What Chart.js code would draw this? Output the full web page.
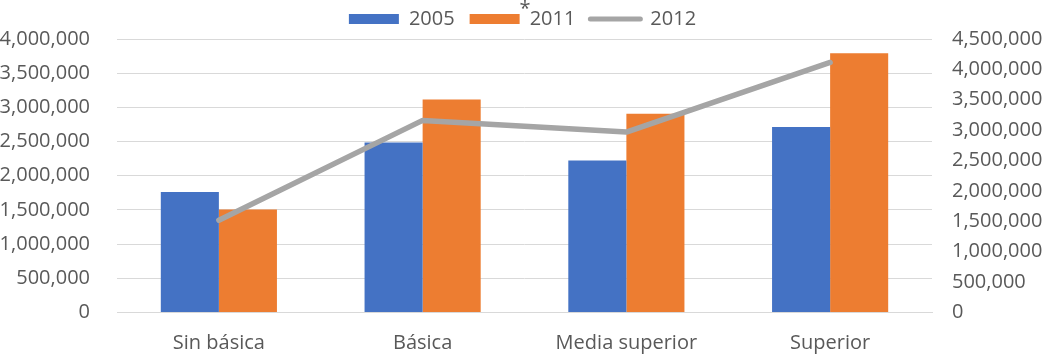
<!DOCTYPE html>
<html>
<head>
<meta charset="utf-8">
<script src="https://cdn.jsdelivr.net/npm/chart.js@4/dist/chart.umd.min.js"></script>
<style>
    body { margin: 0; background: #fff; }
</style>
</head>
<body>
<canvas id="g_niveles" width="1045" height="355"></canvas>
<script>
const categorias = ["Sin básica", "Básica", "Media superior", "Superior"];
const serie2005 = [1764000, 2485000, 2222000, 2712000];
const serie2011 = [1507000, 3117000, 2908000, 3793000];
const serie2012 = [1519000, 3161000, 2969000, 4114000];
const ticksIzq = [0, 4000000, 500000];   // min, max, paso
const ticksDer = [0, 4500000, 500000];

const FUENTE = "'Open Sans', 'Liberation Sans', sans-serif";
const GRIS_TXT = "#595959";

function miles(v) {
    return Number(v).toLocaleString("en-US");
}

// asterisco sobre la leyenda de 2011
const asterisco = {
    id: "asterisco",
    afterDraw(chart) {
        const ctx = chart.ctx;
        ctx.save();
        ctx.fillStyle = GRIS_TXT;
        ctx.font = "20px " + FUENTE;
        ctx.textAlign = "center";
        ctx.textBaseline = "top";
        ctx.fillText("*", 525, -1);
        ctx.restore();
    }
};

function grafica() {
    const ctx = document.getElementById("g_niveles").getContext("2d");
    let conData = {
        labels: categorias,
        datasets: [{
            type: "line",
            label: "2012",
            data: serie2012,
            yAxisID: "y1",
            borderColor: "#A5A5A5",
            backgroundColor: "#A5A5A5",
            borderWidth: 5.5,
            borderCapStyle: "round",
            borderJoinStyle: "round",
            pointRadius: 0,
            pointHoverRadius: 0,
            order: 0
        }, {
            label: "2005",
            data: serie2005,
            backgroundColor: "#4472C4",
            yAxisID: "y",
            order: 1
        }, {
            label: "2011",
            data: serie2011,
            backgroundColor: "#ED7D31",
            yAxisID: "y",
            order: 1
        }]
    }
    let options = {
        responsive: false,
        animation: false,
        layout: { padding: { top: -9, left: 0, right: 0, bottom: 0 } },
        datasets: {
            bar: { categoryPercentage: 0.57, barPercentage: 1 }
        },
        plugins: {
            tooltip: { enabled: false },
            legend: {
                position: "top",
                labels: {
                    usePointStyle: true,
                    pointStyleWidth: 50,
                    boxHeight: 10,
                    padding: 15,
                    color: GRIS_TXT,
                    font: { family: FUENTE, size: 20 },
                    sort: function(a, b) {
                        return Number(a.text) - Number(b.text);
                    },
                    generateLabels: function(chart) {
                        return chart.data.datasets.map(function(ds, i) {
                            const esLinea = ds.type === "line";
                            return {
                                text: ds.label,
                                fillStyle: ds.backgroundColor,
                                strokeStyle: ds.backgroundColor,
                                lineWidth: esLinea ? 5 : 0,
                                lineCap: "round",
                                pointStyle: esLinea ? "line" : "rect",
                                fontColor: GRIS_TXT,
                                datasetIndex: i
                            };
                        });
                    }
                }
            }
        },
        scales: {
            x: {
                grid: { display: false },
                border: { color: "#D9D9D9" },
                ticks: {
                    color: GRIS_TXT,
                    font: { family: FUENTE, size: 20 },
                    padding: 11,
                    maxRotation: 0
                },
                afterFit: function(s) { s.height = 42.5; }
            },
            y: {
                position: "left",
                min: ticksIzq[0],
                max: ticksIzq[1],
                grid: { color: "#D9D9D9", drawTicks: false },
                border: { display: false },
                ticks: {
                    stepSize: ticksIzq[2],
                    color: GRIS_TXT,
                    font: { family: FUENTE, size: 20 },
                    padding: 27,
                    callback: miles
                },
                afterFit: function(s) { s.width = 117; }
            },
            y1: {
                position: "right",
                min: ticksDer[0],
                max: ticksDer[1],
                grid: { display: false, drawTicks: false },
                border: { display: false },
                ticks: {
                    stepSize: ticksDer[2],
                    color: GRIS_TXT,
                    font: { family: FUENTE, size: 20 },
                    padding: 20,
                    callback: miles
                },
                afterFit: function(s) { s.width = 113; }
            }
        }
    }
    const config = {
        type: "bar",
        data: conData,
        options: options,
        plugins: [asterisco]
    }
    const chart = new Chart(ctx, config);
}

window.addEventListener("load", () => {
    grafica();
})
</script>
</body>
</html>
